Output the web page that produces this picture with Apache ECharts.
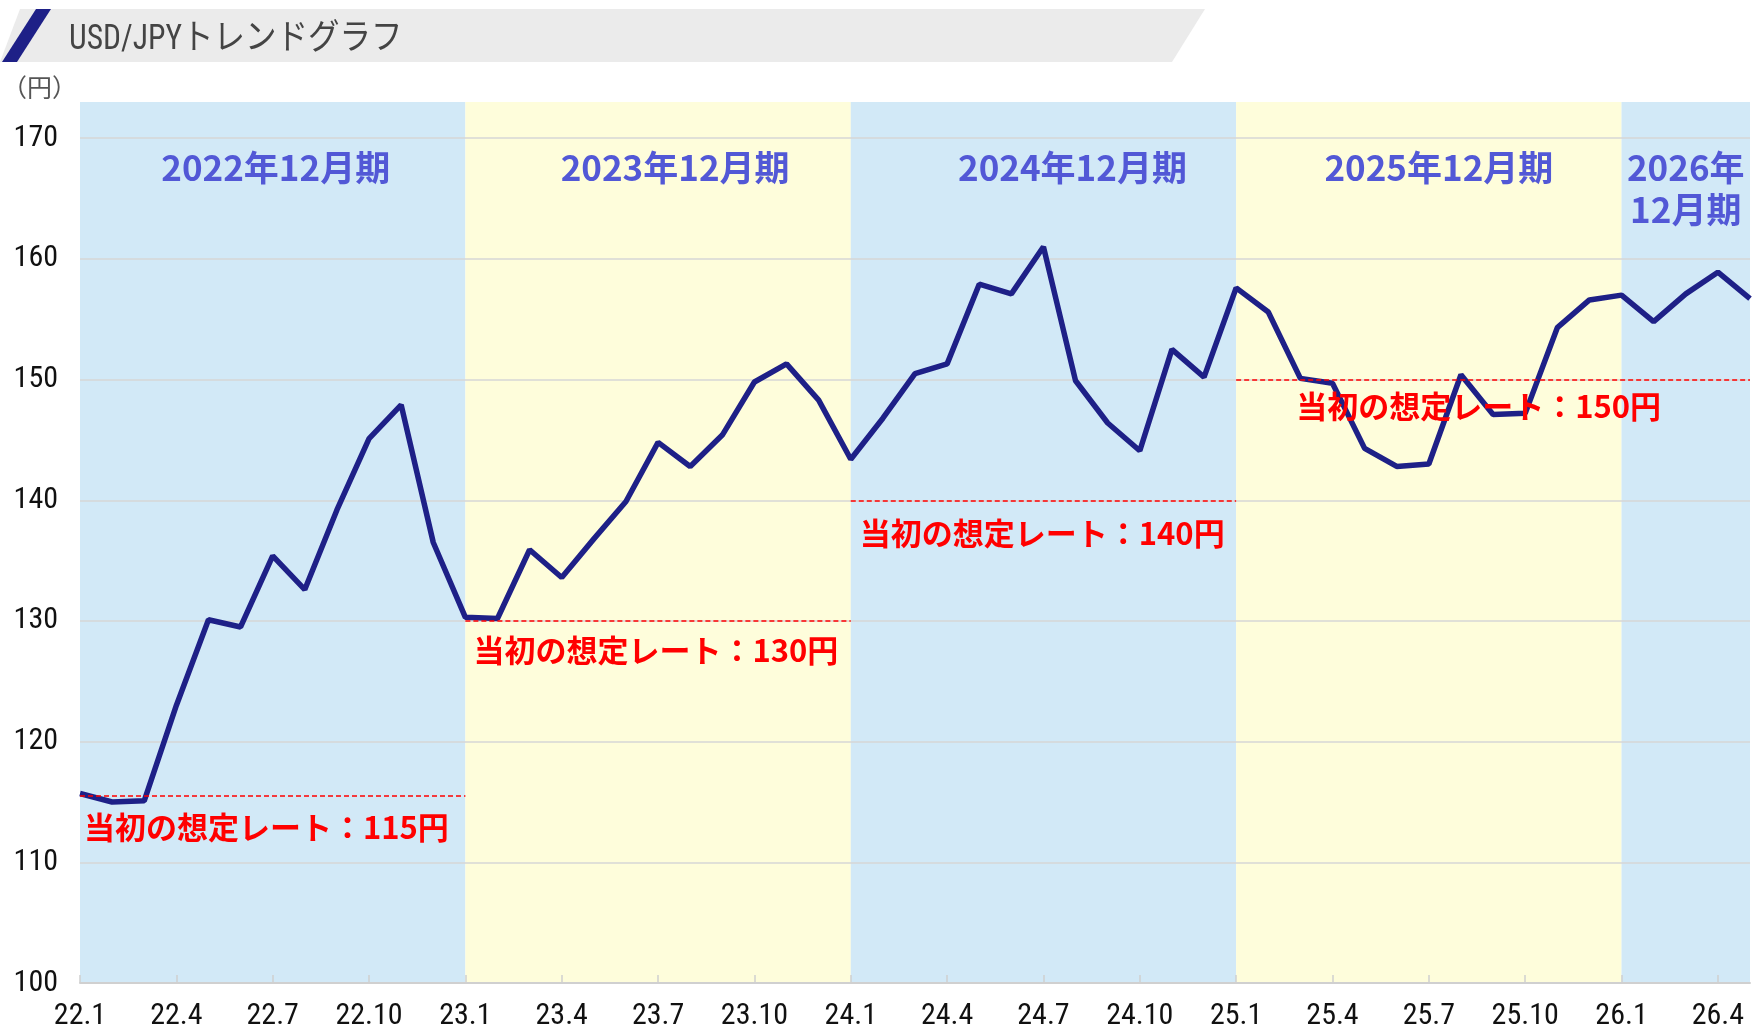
<!DOCTYPE html>
<html><head><meta charset="utf-8">
<script src="https://cdn.jsdelivr.net/npm/echarts@6/dist/echarts.min.js"></script>
<style>html,body{margin:0;padding:0;background:#fff}#c{width:1753px;height:1031px}</style>
</head><body><div id="c"></div>
<script>
const categories = ['22.1','22.2','22.3','22.4','22.5','22.6','22.7','22.8','22.9','22.10','22.11','22.12',
  '23.1','23.2','23.3','23.4','23.5','23.6','23.7','23.8','23.9','23.10','23.11','23.12',
  '24.1','24.2','24.3','24.4','24.5','24.6','24.7','24.8','24.9','24.10','24.11','24.12',
  '25.1','25.2','25.3','25.4','25.5','25.6','25.7','25.8','25.9','25.10','25.11','25.12',
  '26.1','26.2','26.3','26.4','26.5'];
const usdjpy = [115.7,115.0,115.1,123.0,130.1,129.5,135.4,132.6,139.2,145.1,147.9,136.5,
  130.3,130.2,135.9,133.6,136.8,139.9,144.8,142.8,145.4,149.8,151.3,148.3,
  143.4,146.8,150.5,151.3,157.9,157.1,161.0,149.9,146.4,144.1,152.5,150.2,
  157.6,155.6,150.1,149.7,144.3,142.8,143.0,150.4,147.1,147.2,154.3,156.6,
  157.0,154.8,157.1,158.9,156.7];
const periodNames = ['2022年12月期','2023年12月期','2024年12月期','2025年12月期','2026年\n12月期'];
const periodStart = ['22.1','23.1','24.1','25.1','26.1'];
const periodEnd = ['23.1','24.1','25.1','26.1','26.5'];
const rateValues = [115.5,130,140,150];
const rateStart = ['22.1','23.1','24.1','25.1'];
const rateEnd = ['23.1','24.1','25.1','26.5'];
const rateLabels = ['当初の想定レート：115円','当初の想定レート：130円','当初の想定レート：140円','当初の想定レート：150円'];
const yTicks = [100,110,120,130,140,150,160,170];

const bandColors = ['#d2e9f7','#fefddb'];
const rateLabelDist = [[4,16],[8,14],[9,17],[60,11]];
const periodLabelShift = [3,17,29,10,0];

const chart = echarts.init(document.getElementById('c'), null, {renderer:'canvas'});
const option = {
  animation:false,
  backgroundColor:'#ffffff',
  grid:{left:80,right:3,top:102,bottom:45,containLabel:false},
  graphic:[
    {type:'polygon',shape:{points:[[20,9],[1205,9],[1172,62],[0,62]]},style:{fill:'#ebebeb'},z:1},
    {type:'polygon',shape:{points:[[36,9],[51,9],[17,62],[2,62]]},style:{fill:'#1e2087'},z:2},
    {type:'text',x:69,y:40,scaleX:0.9,style:{text:'USD/JPYトレンドグラフ',fill:'#444444',verticalAlign:'middle',align:'left',
      font:"35px 'Roboto Condensed','Noto Sans CJK JP'"},z:3},
    {type:'text',x:2,y:87,style:{text:'（円）',fill:'#555555',verticalAlign:'middle',align:'left',
      font:"25px 'Noto Sans CJK JP'"},z:3}
  ],
  xAxis:{
    type:'category',data:categories,boundaryGap:false,z:2,
    axisLine:{show:true,lineStyle:{color:'#d0d0d0',width:2}},
    axisTick:{show:true,inside:true,interval:2,length:8,lineStyle:{color:'#d0d0d0',width:1.5}},
    axisLabel:{interval:2,margin:18,color:'#111111',fontSize:30,
      fontFamily:"'Roboto Condensed'"},
    splitLine:{show:false}
  },
  yAxis:{
    type:'value',min:100,max:173,interval:10,z:2,
    axisLine:{show:false},axisTick:{show:false},
    axisLabel:{margin:22,color:'#111111',fontSize:30,fontFamily:"'Roboto Condensed'",
      showMaxLabel:false,
      formatter:function(v){return yTicks.indexOf(v)>=0?String(v):'';}},
    splitLine:{show:true,showMaxLine:false,lineStyle:{color:'#d6d6d6',width:1.5}}
  },
  series:[{
    type:'line',data:usdjpy,z:3,symbol:'none',
    lineStyle:{color:'#1e2087',width:5.5},
    markArea:{
      silent:true,
      data:periodNames.map(function(n,i){
        return [{xAxis:periodStart[i],name:n,
          itemStyle:{color:bandColors[i%2]},
          label:{show:true,position:'insideTop',distance:45,offset:[periodLabelShift[i],0],color:'#5258d6',fontSize:35,fontWeight:'bold',
            lineHeight:42,align:'center',fontFamily:"'Noto Sans CJK JP'"}},
          {xAxis:periodEnd[i]}];
      })
    },
    markLine:{
      silent:true,symbol:['none','none'],
      lineStyle:{color:'#ff0000',width:1.5,type:[5,3]},
      data:rateValues.map(function(v,i){
        return [{coord:[rateStart[i],v],
          label:{show:true,formatter:rateLabels[i],position:'insideStartBottom',distance:rateLabelDist[i],
            color:'#ff0000',fontSize:31,fontWeight:'bold',fontFamily:"'Noto Sans CJK JP'"}},
          {coord:[rateEnd[i],v]}];
      })
    }
  }]
};
chart.setOption(option);
</script></body></html>
